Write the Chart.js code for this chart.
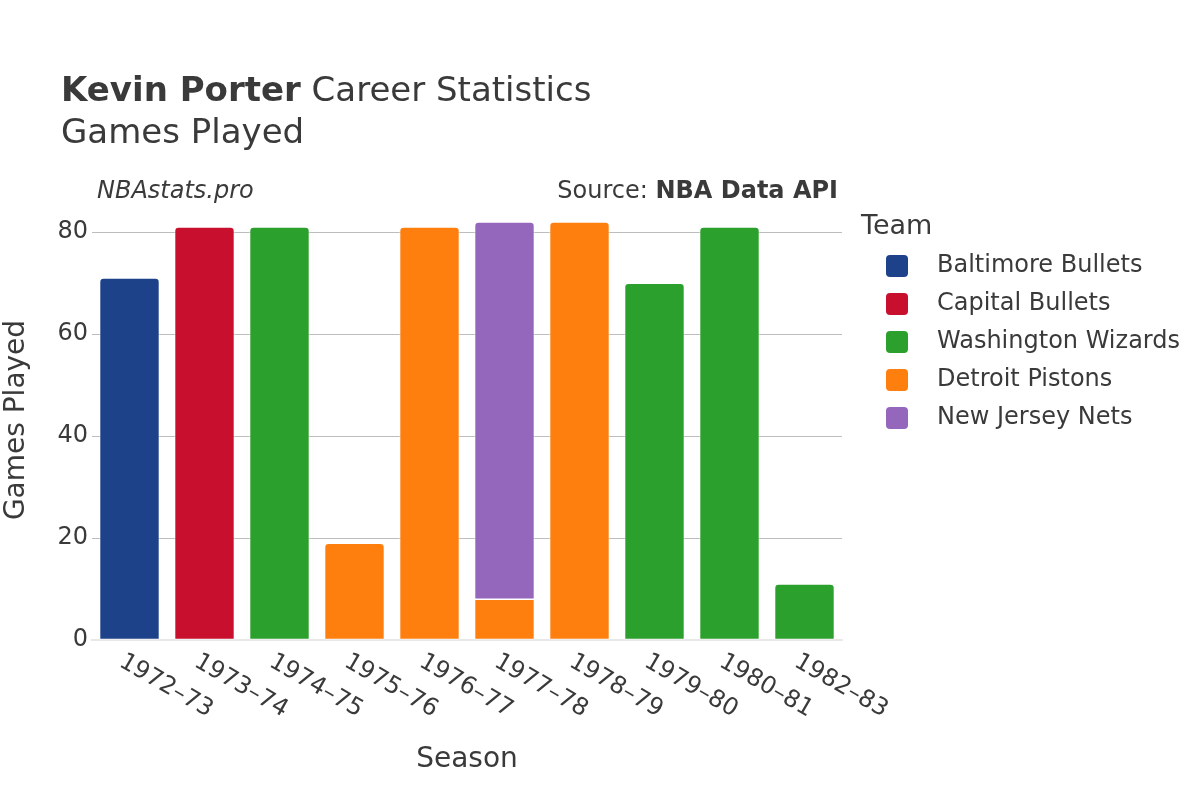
<!DOCTYPE html>
<html>
<head>
<meta charset="utf-8">
<script src="https://cdn.jsdelivr.net/npm/chart.js@4"></script>
<style>
  body { margin: 0; background: #fff; }
  #wrap { width: 1200px; height: 800px; }
</style>
</head>
<body>
<div id="wrap"><canvas id="chart" width="1200" height="800"></canvas></div>
<script>
// Season labels
const seasons = ['1972–73', '1973–74', '1974–75', '1975–76', '1976–77', '1977–78', '1978–79', '1979–80', '1980–81', '1982–83'];

// Games played per team (null = not with that team)
const baltimore = [71, null, null, null, null, null, null, null, null, null];
const capital = [null, 81, null, null, null, null, null, null, null, null];
const washington = [null, null, 81, null, null, null, null, 70, 81, 11];
const detroit = [null, null, null, 19, 81, 8, 82, null, null, null];
const newJersey = [null, null, null, null, null, 74, null, null, null, null];

const teamNames = ['Baltimore Bullets', 'Capital Bullets', 'Washington Wizards', 'Detroit Pistons', 'New Jersey Nets'];
const teamColors = ['#1d428a', '#c8102e', '#2ca02c', '#ff7f0e', '#9467bd'];
const yTicks = [0, 20, 40, 60, 80];

const FONT = '"DejaVu Sans", sans-serif';
const TEXT = '#3a3a3a';

const allSeries = [baltimore, capital, washington, detroit, newJersey];

// only the top piece of each stack gets rounded corners
function topRadius(ctx) {
    const i = ctx.dataIndex;
    for (let d = ctx.datasetIndex + 1; d < allSeries.length; d++) {
        if (allSeries[d][i] != null) return 0;
    }
    return { topLeft: 4, topRight: 4, bottomLeft: 0, bottomRight: 0 };
}

const datasets = allSeries.map((values, k) => ({
    label: teamNames[k],
    data: values,
    backgroundColor: teamColors[k],
    borderColor: '#ffffff',
    borderWidth: 0.8,
    borderSkipped: false,
    borderRadius: topRadius,
    barPercentage: 0.8,
    categoryPercentage: 1
}));

const textPlugin = {
    id: 'texts',
    afterDraw(chart) {
        const c = chart.ctx;
        const area = chart.chartArea;
        const xs = chart.scales.x;
        c.save();
        c.fillStyle = TEXT;

        // title
        c.textBaseline = 'alphabetic';
        c.textAlign = 'left';
        c.font = 'bold 34px ' + FONT;
        c.fillText('Kevin Porter', 61, 101);
        const w = c.measureText('Kevin Porter').width;
        c.font = '34px ' + FONT;
        c.fillText(' Career Statistics', 61 + w, 101);
        c.fillText('Games Played', 61, 143);

        // annotations
        c.textBaseline = 'middle';
        c.font = 'italic 24px ' + FONT;
        c.fillText('NBAstats.pro', 97, 192);
        c.font = 'bold 24px ' + FONT;
        const bw = c.measureText('NBA Data API').width;
        c.textAlign = 'right';
        c.fillText('NBA Data API', 838, 192);
        c.font = '24px ' + FONT;
        c.fillText('Source: ', 838 - bw, 192);

        // x tick labels, slanted
        c.font = '24px ' + FONT;
        c.textAlign = 'left';
        seasons.forEach((s, i) => {
            const x = xs.getPixelForValue(i);
            c.save();
            c.translate(x - 8.5, 660);
            c.rotate(Math.PI / 6);
            c.fillText(s, 0, 0);
            c.restore();
        });

        // axis titles
        c.font = '28px ' + FONT;
        c.textAlign = 'center';
        c.fillText('Season', (area.left + area.right) / 2, 760);
        c.save();
        c.translate(17, 420);
        c.rotate(-Math.PI / 2);
        c.fillText('Games Played', 0, 0);
        c.restore();

        // legend
        c.textAlign = 'left';
        c.font = '27px ' + FONT;
        c.fillText('Team', 861, 227);
        c.font = '24px ' + FONT;
        teamNames.forEach((name, k) => {
            const y = 266 + k * 38;
            c.fillStyle = teamColors[k];
            c.beginPath();
            c.roundRect(886, y - 11, 22, 22, 4);
            c.fill();
            c.fillStyle = TEXT;
            c.fillText(name, 937, y);
        });
        c.restore();
    }
};

new Chart(document.getElementById('chart'), {
    type: 'bar',
    data: { labels: seasons, datasets: datasets },
    options: {
        responsive: false,
        animation: false,
        layout: { padding: { top: 200, right: 358, left: 0, bottom: 0 } },
        plugins: {
            legend: { display: false },
            tooltip: { enabled: false }
        },
        scales: {
            x: {
                stacked: true,
                grid: { display: false },
                border: { display: true, color: '#e8e8e8', width: 2 },
                ticks: { display: false },
                afterFit(scale) { scale.height = 160; }
            },
            y: {
                stacked: true,
                min: 0,
                max: 86.3,
                afterBuildTicks(scale) {
                    scale.ticks = yTicks.map(v => ({ value: v }));
                },
                grid: {
                    color: ctx => ctx.tick && ctx.tick.value === 0 ? 'rgba(0,0,0,0)' : '#bdbdbd',
                    lineWidth: 1,
                    drawTicks: false
                },
                border: { display: false },
                ticks: {
                    color: TEXT,
                    font: { family: FONT, size: 24 },
                    padding: 4
                },
                afterFit(scale) { scale.width = 92; }
            }
        }
    },
    plugins: [textPlugin]
});
</script>
</body>
</html>
